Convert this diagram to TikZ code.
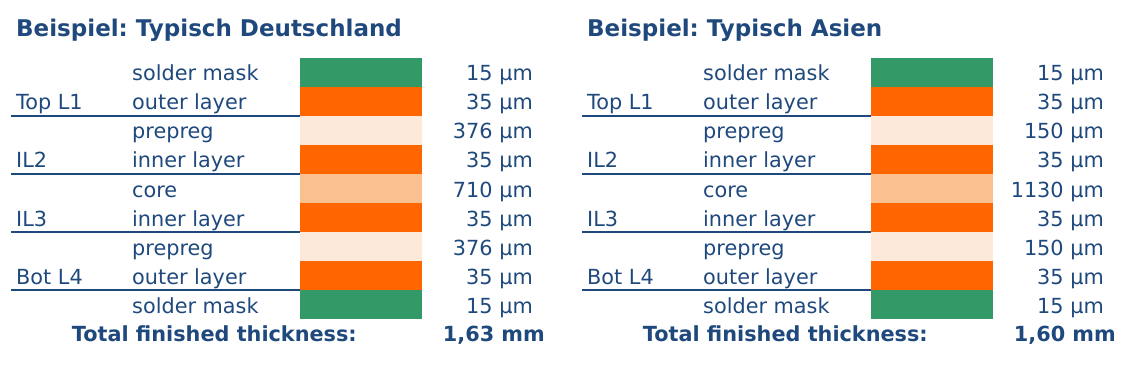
\documentclass[tikz,border=0pt]{standalone}
\usepackage{fontspec}
\setmainfont{DejaVu Sans}
\frenchspacing
\definecolor{txtblue}{RGB}{31,73,125}
\definecolor{maskgreen}{RGB}{51,153,102}
\definecolor{copper}{RGB}{255,102,0}
\definecolor{prepregfill}{RGB}{253,233,217}
\definecolor{corefill}{RGB}{250,192,144}
\tikzset{
  txt/.style={text=txtblue, inner sep=0pt, font=\fontsize{20.8}{25}\selectfont},
  boldtxt/.style={txt, font=\fontsize{20.8}{25}\selectfont\bfseries},
  titletxt/.style={txt, font=\fontsize{23}{27}\selectfont\bfseries},
  layerbox/.style={draw=none, inner sep=0pt, outer sep=0pt,
    minimum width=122pt, minimum height=29pt, anchor=north west},
  rule/.style={draw=txtblue, line width=2.3pt}
}
% one stack-up: #1 name, #2 x shift, #3 title, #4 prepreg, #5 core, #6 total
\newcommand{\pcbstack}[6]{
  \node[titletxt, anchor=base west] (#1-title) at ({#2+16},36.5) {#3};
  % layers
  \foreach \i/\lay/\col/\val in {1/solder mask/maskgreen/15, 2/outer layer/copper/35,
      3/prepreg/prepregfill/#4, 4/inner layer/copper/35, 5/core/corefill/#5,
      6/inner layer/copper/35, 7/prepreg/prepregfill/#4, 8/outer layer/copper/35,
      9/solder mask/maskgreen/15} {
    \node[layerbox, fill=\col] (#1-box\i) at ({#2+300},{29*\i+29}) {};
    \node[txt, anchor=base west] (#1-lay\i) at ({#2+132},{29*\i+52}) {\lay};
    \node[txt, anchor=base east] (#1-val\i) at ({#2+533},{29*\i+52}) {\val~µm};
  }
  % copper layer names with rules
  \foreach \i/\lbl in {2/Top L1, 4/IL2, 6/IL3, 8/Bot L4} {
    \node[txt, anchor=base west] (#1-lbl\i) at ({#2+16},{29*\i+52}) {\lbl};
    \coordinate (#1-rule\i) at ({#2+11},{29*\i+58});
    \draw[rule] (#1-rule\i) -- (#1-box\i.south west);
  }
  \node[boldtxt, anchor=base east] (#1-total) at ({#2+357},341) {Total finished thickness:};
  \node[boldtxt, anchor=base east] (#1-sum) at ({#2+545},341) {#6};
}

\begin{document}
\begin{tikzpicture}[x=1pt, y=-1pt]
  \useasboundingbox (0,0) rectangle (1132,366);
  \pcbstack{de}{0}{Beispiel: Typisch Deutschland}{376}{710}{1,63 mm}
  \pcbstack{as}{571}{Beispiel: Typisch Asien}{150}{1130}{1,60 mm}
\end{tikzpicture}
\end{document}
